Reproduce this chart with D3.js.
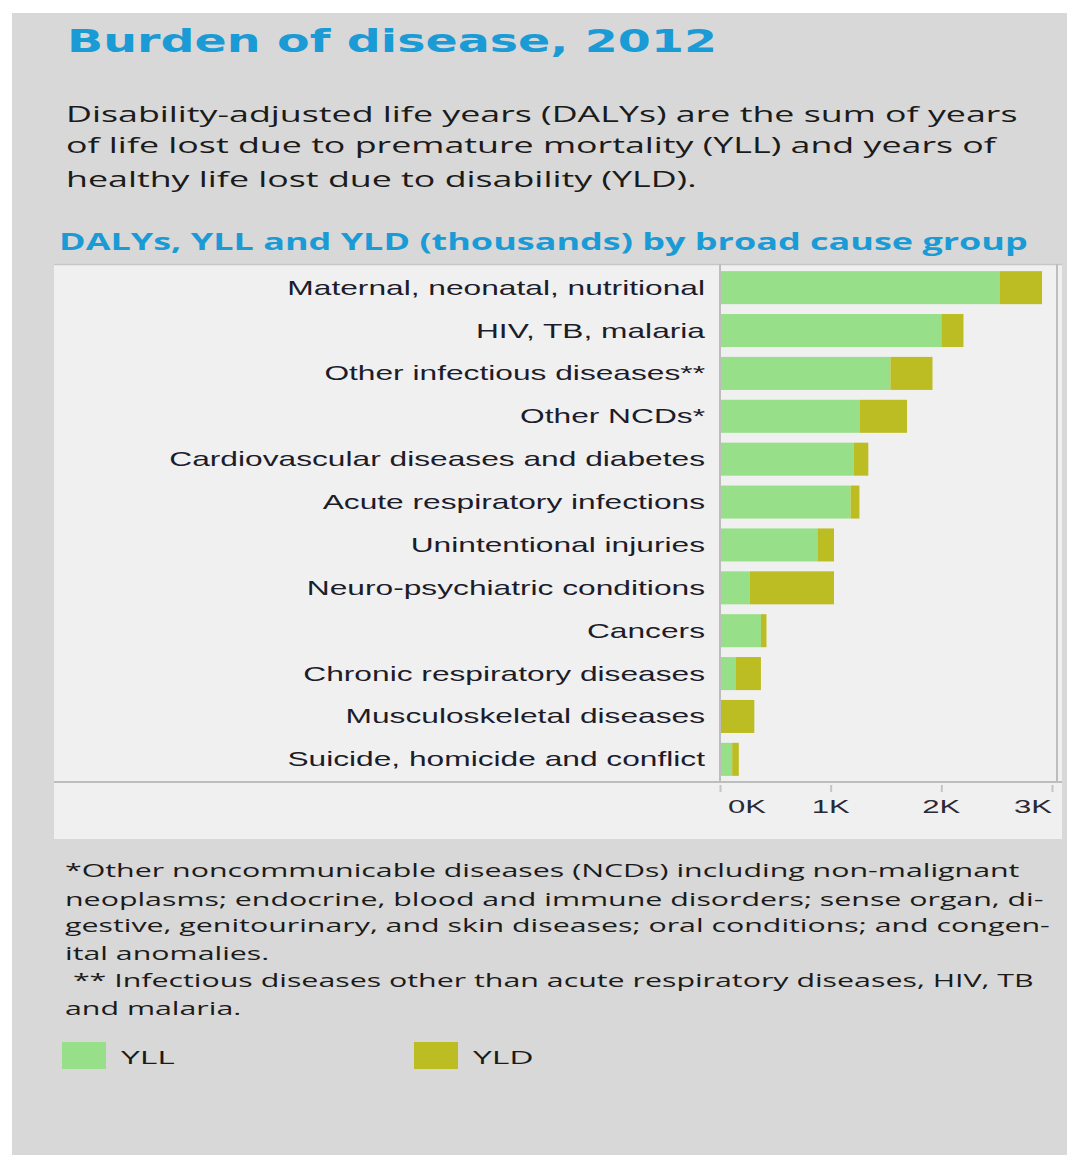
<!DOCTYPE html>
<html>
<head>
<meta charset="utf-8">
<script src="https://cdn.jsdelivr.net/npm/d3@7"></script>
<style>
  body { margin: 0; background: #ffffff; }
  text { white-space: pre; }
</style>
</head>
<body>
<div id="chart"></div>
<script>
// data (thousands)
var causes = [
  "Maternal, neonatal, nutritional",
  "HIV, TB, malaria",
  "Other infectious diseases**",
  "Other NCDs*",
  "Cardiovascular diseases and diabetes",
  "Acute respiratory infections",
  "Unintentional injuries",
  "Neuro-psychiatric conditions",
  "Cancers",
  "Chronic respiratory diseases",
  "Musculoskeletal diseases",
  "Suicide, homicide and conflict"
];
var yll = [2.53, 2.00, 1.54, 1.26, 1.21, 1.18, 0.88, 0.27, 0.37, 0.14, 0.00, 0.11];
var yld = [0.38, 0.20, 0.38, 0.43, 0.13, 0.08, 0.15, 0.76, 0.05, 0.23, 0.31, 0.06];
var xTicks = [0, 1, 2, 3];
var xTickLabels = ["0K", "1K", "2K", "3K"];
var seriesNames = ["YLL", "YLD"];
var seriesColors = ["#98df8a", "#bcbd22"];

var titleText = "Burden of disease, 2012";
var introLines = [
  "Disability-adjusted life years (DALYs) are the sum of years",
  "of life lost due to premature mortality (YLL) and years of",
  "healthy life lost due to disability (YLD)."
];
var subtitleText = "DALYs, YLL and YLD (thousands) by broad cause group";
var noteLines = [
  "*Other noncommunicable diseases (NCDs) including non-malignant",
  "neoplasms; endocrine, blood and immune disorders; sense organ, di-",
  "gestive, genitourinary, and skin diseases; oral conditions; and congen-",
  "ital anomalies.",
  " ** Infectious diseases other than acute respiratory diseases, HIV, TB",
  "and malaria."
];

var W = 1067, H = 1155;
var blue = "#1a9bd5";

var svg = d3.select("#chart").append("svg")
  .attr("width", W)
  .attr("height", H);

// backgrounds
svg.append("rect").attr("x", 12).attr("y", 13).attr("width", W - 12).attr("height", H - 13)
  .attr("fill", "#d8d8d8");
svg.append("rect").attr("x", 54).attr("y", 264).attr("width", 1008).attr("height", 575)
  .attr("fill", "#f0f0f0");

// put a text at (x,y) and stretch it sideways so it spans targetW; returns the stretch
function stretched(parent, str, x, y, targetW, anchor, k) {
  var t = parent.append("text")
    .attr("text-anchor", anchor || "start")
    .attr("xml:space", "preserve")
    .text(str);
  if (k === undefined) {
    k = targetW / t.node().getComputedTextLength();
  }
  t.attr("transform", "translate(" + x + "," + y + ") scale(" + k + ",1)");
  t.stretch = k;
  return t;
}

// title
var gTitle = svg.append("g")
  .attr("font-family", "'DejaVu Sans', sans-serif")
  .attr("font-weight", "bold")
  .attr("font-size", 32)
  .attr("fill", blue);
stretched(gTitle, titleText, 67, 52, 650);

// intro paragraph
var gIntro = svg.append("g")
  .attr("font-family", "'Open Sans', sans-serif")
  .attr("font-size", 22)
  .attr("fill", "#1b1b1b");
var introY = [122, 153, 187];
var kIntro = stretched(gIntro, introLines[0], 66, introY[0], 952).stretch;
introLines.slice(1).forEach(function(s, i) {
  stretched(gIntro, s, 66, introY[i + 1], 0, "start", kIntro);
});

// subtitle
var gSub = svg.append("g")
  .attr("font-family", "'Open Sans', sans-serif")
  .attr("font-weight", "bold")
  .attr("font-size", 24)
  .attr("fill", blue);
stretched(gSub, subtitleText, 59, 250, 969);

// scales
var x = d3.scaleLinear()
  .domain([0, 3])
  .range([720, 1052]);

var y = d3.scaleBand()
  .domain(causes)
  .range([266, 781])
  .paddingInner(0.23)
  .paddingOuter(0.12);

var rows = causes.map(function(c, i) {
  return {cause: c, YLL: yll[i], YLD: yld[i]};
});
var stack = d3.stack().keys(seriesNames)(rows);

// frame lines
var lineCol = "#bdbdbd";
svg.append("line").attr("x1", 54).attr("x2", 1062).attr("y1", 264.5).attr("y2", 264.5)
  .attr("stroke", "#c6c6c6").attr("stroke-width", 1.5);
svg.append("line").attr("x1", 54).attr("x2", 1062).attr("y1", 782).attr("y2", 782)
  .attr("stroke", lineCol).attr("stroke-width", 2);
svg.append("line").attr("x1", 1057).attr("x2", 1057).attr("y1", 264).attr("y2", 782)
  .attr("stroke", lineCol).attr("stroke-width", 2);

// bars
svg.append("g")
  .selectAll("g")
  .data(stack)
  .enter()
  .append("g")
    .attr("fill", function(d, i) { return seriesColors[i]; })
  .selectAll("rect")
  .data(function(d) { return d; })
  .enter()
  .append("rect")
    .attr("x", function(d) { return x(d[0]); })
    .attr("y", function(d) { return y(d.data.cause); })
    .attr("width", function(d) { return Math.max(0, x(d[1]) - x(d[0])); })
    .attr("height", y.bandwidth());

// y axis line
svg.append("line").attr("x1", 720).attr("x2", 720).attr("y1", 264).attr("y2", 782)
  .attr("stroke", lineCol).attr("stroke-width", 2);

// category labels
var gLab = svg.append("g")
  .attr("font-family", "'Liberation Sans', Arial, sans-serif")
  .attr("font-size", 20.5)
  .attr("fill", "#1c1c2a");
var kLab = stretched(gLab, causes[0], 705, y(causes[0]) + y.bandwidth() / 2 + 7, 418, "end").stretch;
causes.slice(1).forEach(function(c) {
  stretched(gLab, c, 705, y(c) + y.bandwidth() / 2 + 7, 0, "end", kLab);
});

// x axis
var xAxis = d3.axisBottom(x)
  .tickValues(xTicks)
  .tickFormat(function(d, i) { return xTickLabels[i]; })
  .tickSizeInner(7)
  .tickSizeOuter(0);
var gx = svg.append("g")
  .attr("transform", "translate(0,785)")
  .call(xAxis);
gx.select(".domain").remove();
gx.selectAll(".tick line").attr("stroke", "#c4c4c4").attr("stroke-width", 2);
gx.selectAll(".tick text").remove();

var gxl = svg.append("g")
  .attr("font-family", "'Liberation Sans', Arial, sans-serif")
  .attr("font-size", 19)
  .attr("fill", "#2a2a33");
var kAx = null;
xTicks.forEach(function(v, i) {
  var anchor = i === 0 ? "start" : (i === xTicks.length - 1 ? "end" : "middle");
  var px = x(v) + (i === 0 ? 8 : 0);
  if (kAx === null) {
    kAx = stretched(gxl, xTickLabels[i], px, 813, 38, anchor).stretch;
  } else {
    stretched(gxl, xTickLabels[i], px, 813, 0, anchor, kAx);
  }
});

// footnotes
var gNote = svg.append("g")
  .attr("font-family", "'Open Sans', sans-serif")
  .attr("font-size", 18)
  .attr("fill", "#1b1b1b");
var noteY = [877, 906, 932, 960, 987, 1015];
var kNote = stretched(gNote, noteLines[0], 65, noteY[0], 955).stretch;
noteLines.slice(1).forEach(function(s, i) {
  stretched(gNote, s, 65, noteY[i + 1], 0, "start", kNote);
});

// legend
var legX = [62, 414];
var gLeg = svg.append("g")
  .attr("font-family", "'Open Sans', sans-serif")
  .attr("font-size", 19)
  .attr("fill", "#1b1b1b");
seriesNames.forEach(function(s, i) {
  gLeg.append("rect")
    .attr("x", legX[i]).attr("y", 1042)
    .attr("width", 44).attr("height", 27)
    .attr("fill", seriesColors[i]);
  stretched(gLeg, s, legX[i] + 59, 1064, 0, "start", kNote * 1.05);
});
</script>
</body>
</html>
